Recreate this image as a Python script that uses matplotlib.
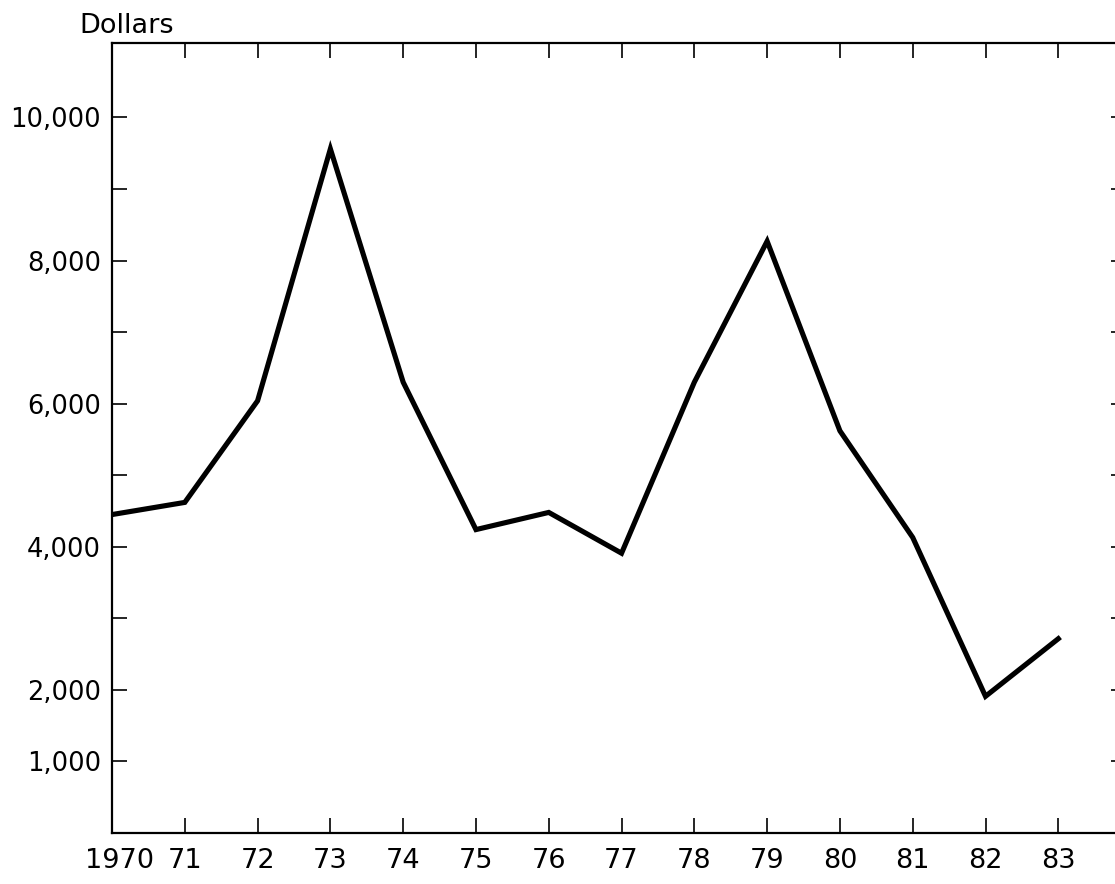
import matplotlib
matplotlib.use("Agg")
import matplotlib.pyplot as plt
import matplotlib.transforms as mtransforms
from matplotlib.ticker import FixedLocator, FixedFormatter

# Data
years = [1970, 1971, 1972, 1973, 1974, 1975, 1976, 1977, 1978, 1979, 1980, 1981, 1982, 1983]
dollars = [4450, 4620, 6040, 9560, 6300, 4240, 4480, 3910, 6300, 8270, 5620, 4130, 1910, 2715]

x_ticks = [1970, 1971, 1972, 1973, 1974, 1975, 1976, 1977, 1978, 1979, 1980, 1981, 1982, 1983]
x_labels = ["1970", "71", "72", "73", "74", "75", "76", "77", "78", "79", "80", "81", "82", "83"]
y_ticks = [1000, 2000, 3000, 4000, 5000, 6000, 7000, 8000, 9000, 10000]
y_labels = ["1,000", "2,000", "", "4,000", "", "6,000", "", "8,000", "", "10,000"]
y_title = "Dollars"

plt.rcParams['font.family'] = ['DejaVu Sans']

W, H = 1115, 884
fig = plt.figure(figsize=(W / 100, H / 100), dpi=100)
ax = fig.add_axes([112 / W, 1 - 833 / H, (1126 - 112) / W, (833 - 43) / H])

ax.plot(years, dollars, color="black", linewidth=3.7, solid_joinstyle="miter")

ax.set_xlim(1970, 1983.93)
ax.set_ylim(0, 11040)

ax.xaxis.set_major_locator(FixedLocator(x_ticks))
ax.xaxis.set_major_formatter(FixedFormatter(x_labels))
ax.yaxis.set_major_locator(FixedLocator(y_ticks))
ax.yaxis.set_major_formatter(FixedFormatter(y_labels))

ax.tick_params(axis="both", direction="in", length=11, width=1.2, color="black",
               top=True, right=True, labeltop=False, labelright=False)
ax.tick_params(axis="x", labelsize=19.5, pad=11)
ax.tick_params(axis="y", labelsize=18.5, pad=8)

for side in ["left", "bottom", "top"]:
    ax.spines[side].set_linewidth(1.6)
    ax.spines[side].set_color("black")
ax.spines["right"].set_visible(False)

# shift the "1970" label slightly right as in the original
lbls = ax.get_xticklabels()
offset = mtransforms.ScaledTranslation(8 / 100, 0, fig.dpi_scale_trans)
lbls[0].set_transform(lbls[0].get_transform() + offset)

fig.text(79 / W, 1 - 33 / H, y_title, fontsize=19.5, ha="left", va="baseline")

fig.savefig("out.png", dpi=100)
